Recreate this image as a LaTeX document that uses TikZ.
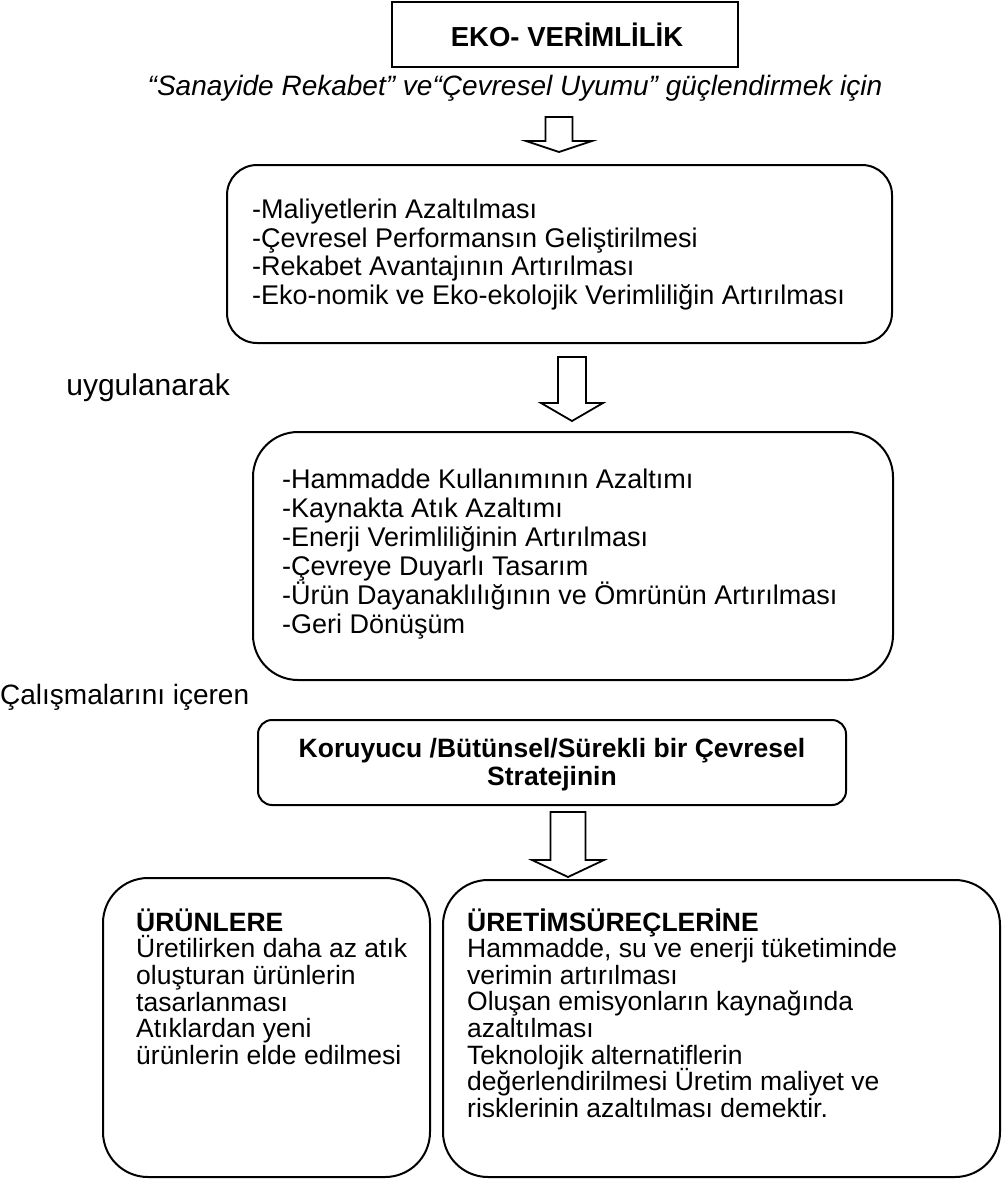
\documentclass[tikz,border=0pt]{standalone}
\usepackage{fontspec}
\setmainfont{Liberation Sans}
\newcommand\tightskip{\lineskiplimit=-30pt\relax}
\newcommand\hollowarrow[6]{% cx, top, headstart, tip, shaftw, headw
  \draw[arrowline] ({#1-#5/2},#2) -- ({#1-#5/2},#3) -- ({#1-#6/2},#3) -- (#1,#4)
    -- ({#1+#6/2},#3) -- ({#1+#5/2},#3) -- ({#1+#5/2},#2) -- cycle;}
\begin{document}
\begin{tikzpicture}[x=1pt,y=-1pt,
  rbox/.style={draw, line width=2pt, rounded corners=#1, inner sep=0pt},
  arrowline/.style={line width=1.8pt, line join=miter},
  body/.style={inner sep=0pt, align=left, font={\fontsize{27}{28.5}\selectfont\tightskip}},
  lowtext/.style={inner sep=0pt, align=left, font={\fontsize{26.5}{26.6}\selectfont\tightskip}},
  label/.style={inner sep=0pt, font=\fontsize{28}{30}\selectfont}]
\fill[white] (0,0) rectangle (1004,1181);
\useasboundingbox (0,0) rectangle (1004,1181);

% top box
\node[draw, line width=2.5pt, minimum width=346pt, minimum height=65pt, inner sep=0pt] (top) at (565,34.5) {};
\node[inner sep=0pt, font=\fontsize{27.5}{29}\selectfont\bfseries] (title) at (567,35) {EKO- VERİMLİLİK};
\node[inner sep=0pt, font=\fontsize{28}{30}\selectfont\itshape] (sub) at (515,88) {“Sanayide Rekabet” ve“Çevresel Uyumu” güçlendirmek için};

\hollowarrow{559}{117}{141}{152}{27}{66}

% box 2
\node[rbox=30pt, minimum width=665pt, minimum height=178pt] (b2) at (559.5,254) {};
\node[body, anchor=west] (t2) at (252,254.5) {-Maliyetlerin Azaltılması\\-Çevresel Performansın Geliştirilmesi\\-Rekabet Avantajının Artırılması\\-Eko-nomik ve Eko-ekolojik Verimliliğin Artırılması};

\node[label, anchor=east, font=\fontsize{30}{32}\selectfont] (l1) at (230,388) {uygulanarak};
\hollowarrow{572}{357}{403}{421}{28}{62}

% box 3
\node[rbox=45pt, minimum width=640pt, minimum height=248pt] (b3) at (573,556) {};
\node[body, anchor=west, font={\fontsize{27}{29}\selectfont\tightskip}] (t3) at (282,554.5) {-Hammadde Kullanımının Azaltımı\\-Kaynakta Atık Azaltımı\\-Enerji Verimliliğinin Artırılması\\-Çevreye Duyarlı Tasarım\\-Ürün Dayanaklılığının ve Ömrünün Artırılması\\-Geri Dönüşüm};

\node[label, anchor=west] (l2) at (0,697) {Çalışmalarını içeren};

% box 4
\node[rbox=14pt, minimum width=588pt, minimum height=85pt] (b4) at (552,762.5) {};
\node[inner sep=0pt, align=center, font=\fontsize{26.5}{28}\selectfont\bfseries] (t4) at (552,765) {Koruyucu /Bütünsel/Sürekli bir Çevresel\\Stratejinin};

\hollowarrow{568}{812}{860}{877}{35}{72}

% box 5
\node[rbox=45pt, minimum width=327pt, minimum height=299pt] (b5) at (266.5,1027.5) {};
\node[lowtext, anchor=west] (t5) at (136,986.5) {\textbf{ÜRÜNLERE}\\Üretilirken daha az atık\\oluşturan ürünlerin\\tasarlanması\\Atıklardan yeni\\ürünlerin elde edilmesi};

% box 6
\node[rbox=45pt, minimum width=557pt, minimum height=297pt] (b6) at (721.5,1028.5) {};
\node[lowtext, anchor=west] (t6) at (467,1013) {\textbf{ÜRETİMSÜREÇLERİNE}\\Hammadde, su ve enerji tüketiminde\\verimin artırılması\\Oluşan emisyonların kaynağında\\azaltılması\\Teknolojik alternatiflerin\\değerlendirilmesi Üretim maliyet ve\\risklerinin azaltılması demektir.};
\end{tikzpicture}
\end{document}
